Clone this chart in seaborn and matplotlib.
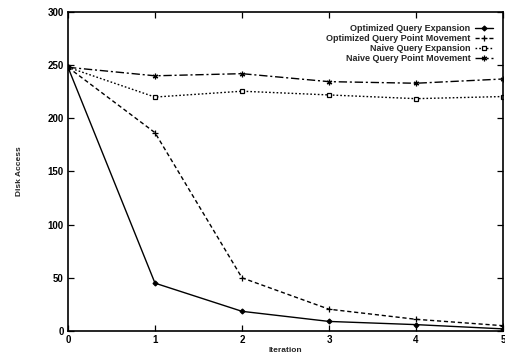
import matplotlib
matplotlib.use("Agg")
import matplotlib.pyplot as plt
import seaborn as sns
import pandas as pd

iterations = [0, 1, 2, 3, 4, 5]
series_names = [
    "Optimized Query Expansion",
    "Optimized Query Point Movement",
    "Naive Query Expansion",
    "Naive Query Point Movement",
]
opt_qe = [248, 45, 18.5, 9, 6, 2]
opt_qpm = [248, 186.5, 50, 20.5, 11, 5]
naive_qe = [248, 220, 225.5, 222, 218.5, 220.5]
naive_qpm = [248, 240, 242, 234.5, 233, 237]
x_ticks = [0, 1, 2, 3, 4, 5]
y_ticks = [0, 50, 100, 150, 200, 250, 300]

rows = []
for name, vals in zip(series_names, [opt_qe, opt_qpm, naive_qe, naive_qpm]):
    for it, v in zip(iterations, vals):
        rows.append({"Iteration": it, "Disk Access": v, "series": name})
df = pd.DataFrame(rows)

sns.set_style("ticks")
plt.rcParams["font.family"] = ["Liberation Sans", "DejaVu Sans"]
plt.rcParams["font.weight"] = "bold"

fig = plt.figure(figsize=(5.06, 3.56), dpi=100)
ax = fig.add_axes([68 / 506, 1 - 331 / 356, 435 / 506, 319 / 356])

dashes = {
    series_names[0]: "",
    series_names[1]: (3, 2),
    series_names[2]: (1.2, 1.5),
    series_names[3]: (6, 2, 1.5, 2),
}
palette = {n: "black" for n in series_names}

sns.lineplot(
    data=df, x="Iteration", y="Disk Access", hue="series", style="series",
    hue_order=series_names, style_order=series_names,
    markers=False, dashes=dashes, palette=palette, linewidth=1.0,
    legend=False, ax=ax,
)

marker_specs = [("D", 2.5, "black"), ("+", 4, "black"), ("s", 3.5, "white"), ((6, 2, 0), 4, "black")]
lines = ax.get_lines()[:4]
for ln, (m, ms, fc) in zip(lines, marker_specs):
    ln.set_marker(m)
    ln.set_markersize(ms)
    ln.set_markerfacecolor(fc)
    ln.set_markeredgecolor("black")
    ln.set_markeredgewidth(0.9)

ax.legend(
    handles=lines, labels=series_names, loc="upper right",
    bbox_to_anchor=(0.977, 0.962), frameon=False, markerfirst=False,
    fontsize=6.5, handlelength=2.0, handletextpad=0.5, labelspacing=0.1,
    borderaxespad=0, borderpad=0,
)

ax.set_xlim(0, 5)
ax.set_ylim(0, 300)
ax.set_xticks(x_ticks)
ax.set_yticks(y_ticks)
ax.tick_params(direction="in", length=4, width=0.9, top=True, right=True,
               labelsize=7, pad=3, colors="black")
for lab in ax.get_xticklabels() + ax.get_yticklabels():
    lab.set_fontweight("bold")
for s in ax.spines.values():
    s.set_visible(True)
    s.set_linewidth(1.2)
    s.set_color("black")
ax.set_xlabel("Iteration", fontsize=6, fontweight="bold", labelpad=1)
ax.set_ylabel("Disk Access", fontsize=6, fontweight="bold", labelpad=18)

fig.savefig("out.png", dpi=100)
